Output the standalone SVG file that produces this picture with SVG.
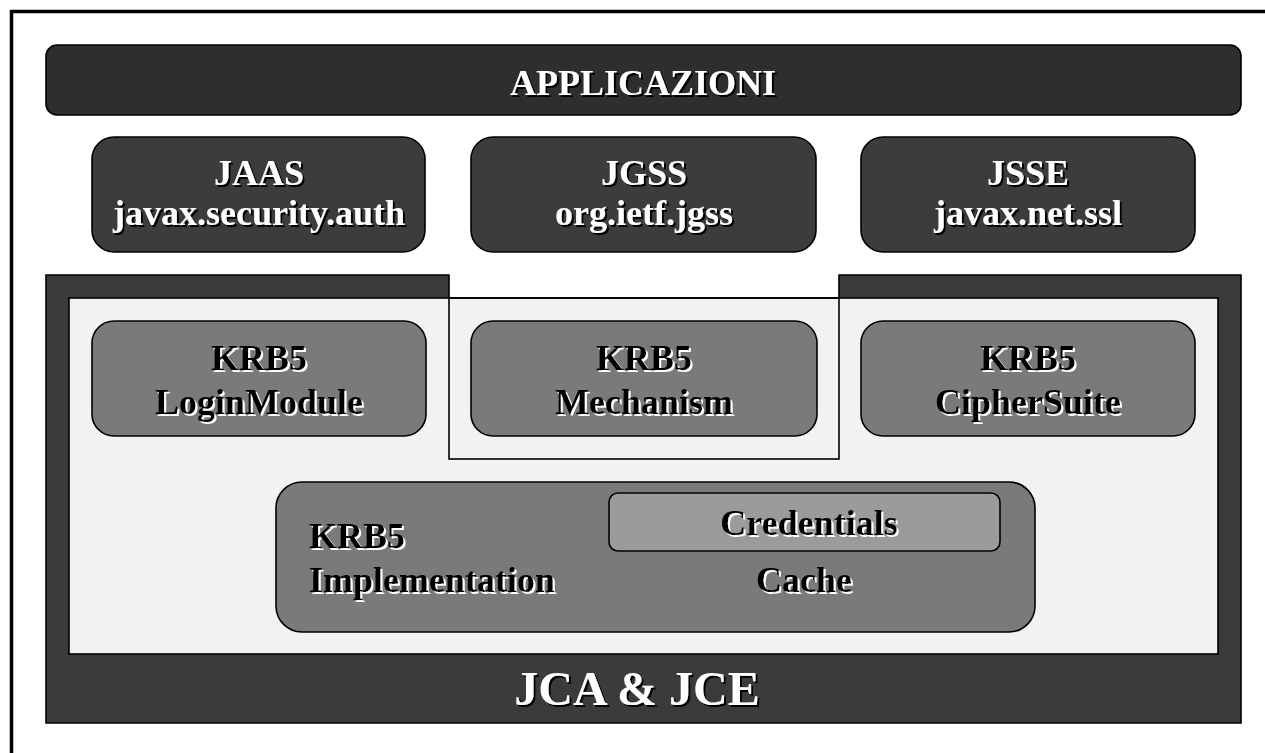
<svg xmlns="http://www.w3.org/2000/svg" width="1265" height="753" viewBox="0 0 1265 753">
  <defs>
    <filter id="shadowDark" x="-5%" y="-20%" width="115%" height="150%">
      <feDropShadow dx="2" dy="2" stdDeviation="0.3" flood-color="#000000" flood-opacity="1"/>
    </filter>
    <filter id="shadowLight" x="-5%" y="-20%" width="115%" height="150%">
      <feDropShadow dx="2" dy="2" stdDeviation="0.3" flood-color="#ffffff" flood-opacity="1"/>
    </filter>
  </defs>
  <style>
    text { font-family: "Liberation Serif", "Times New Roman", serif; font-weight: bold; }
    .lbl-w { fill: #ffffff; font-size: 36px; text-anchor: middle; filter: url(#shadowDark); }
    .lbl-b { fill: #000000; font-size: 36px; text-anchor: middle; filter: url(#shadowLight); }
    .dark { fill: #3c3c3c; stroke: #000000; stroke-width: 1.6; }
    .krb { fill: #7a7a7a; stroke: #000000; stroke-width: 1.6; }
  </style>

  <rect width="1265" height="753" fill="#ffffff"/>

  <!-- outer frame -->
  <rect x="11.5" y="11.5" width="1320" height="800" fill="none" stroke="#000000" stroke-width="3.5"/>

  <!-- top application layer -->
  <g id="applicazioni">
    <rect x="46" y="45" width="1195" height="70" rx="11" fill="#2e2e2e" stroke="#000000" stroke-width="1.6"/>
    <text class="lbl-w" x="643" y="95">APPLICAZIONI</text>
  </g>

  <!-- API layer -->
  <g id="jaas">
    <rect class="dark" x="92" y="137" width="333" height="115" rx="22"/>
    <text class="lbl-w" x="259" y="185">JAAS</text>
    <text class="lbl-w" x="259" y="225">javax.security.auth</text>
  </g>
  <g id="jgss">
    <rect class="dark" x="471" y="137" width="345" height="115" rx="22"/>
    <text class="lbl-w" x="644" y="185">JGSS</text>
    <text class="lbl-w" x="644" y="225">org.ietf.jgss</text>
  </g>
  <g id="jsse">
    <rect class="dark" x="861" y="137" width="334" height="115" rx="22"/>
    <text class="lbl-w" x="1028" y="185">JSSE</text>
    <text class="lbl-w" x="1028" y="225">javax.net.ssl</text>
  </g>

  <!-- provider layer: JCA & JCE frame with light inner area -->
  <g id="jca-jce">
    <path d="M46,275 H449 V298 H839 V275 H1241 V723 H46 Z" fill="#3b3b3b" stroke="#000000" stroke-width="1.6"/>
    <rect x="69" y="298" width="1149" height="356" fill="#f2f2f2" stroke="#000000" stroke-width="1.6"/>
    <rect x="449" y="298" width="390" height="161" fill="none" stroke="#000000" stroke-width="1.6"/>
    <text class="lbl-w" x="637" y="705" style="font-size:48px">JCA &amp; JCE</text>
  </g>

  <g id="krb5-loginmodule">
    <rect class="krb" x="92" y="321" width="334" height="115" rx="22"/>
    <text class="lbl-b" x="259" y="370">KRB5</text>
    <text class="lbl-b" x="259" y="414">LoginModule</text>
  </g>
  <g id="krb5-mechanism">
    <rect class="krb" x="471" y="321" width="346" height="115" rx="22"/>
    <text class="lbl-b" x="644" y="370">KRB5</text>
    <text class="lbl-b" x="644" y="414">Mechanism</text>
  </g>
  <g id="krb5-ciphersuite">
    <rect class="krb" x="861" y="321" width="334" height="115" rx="22"/>
    <text class="lbl-b" x="1028" y="370">KRB5</text>
    <text class="lbl-b" x="1028" y="414">CipherSuite</text>
  </g>

  <g id="krb5-implementation">
    <rect class="krb" x="276" y="482" width="759" height="150" rx="26"/>
    <text class="lbl-b" x="309" y="548" style="text-anchor:start">KRB5</text>
    <text class="lbl-b" x="309" y="592" style="text-anchor:start">Implementation</text>
    <text class="lbl-b" x="804" y="592">Cache</text>
  </g>
  <g id="credentials">
    <rect x="609" y="493" width="391" height="58" rx="9" fill="#9b9b9b" stroke="#000000" stroke-width="1.6"/>
    <text class="lbl-b" x="809" y="535">Credentials</text>
  </g>
</svg>
